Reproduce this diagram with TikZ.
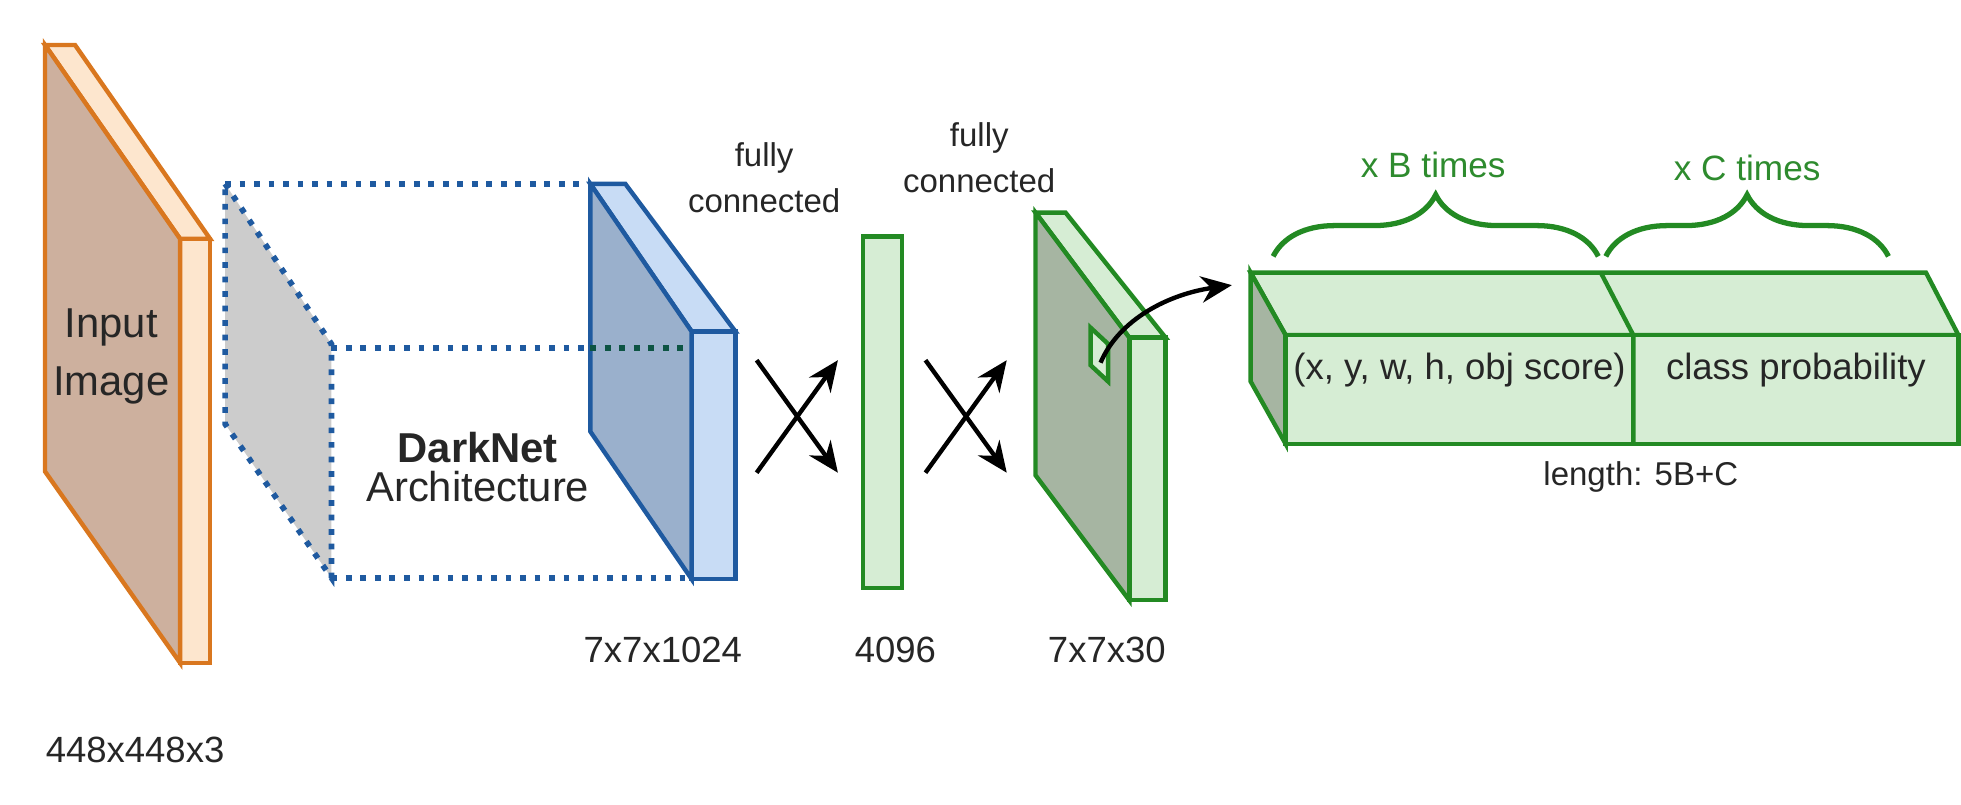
\documentclass[tikz,border=0pt]{standalone}
\usepackage{fontspec}
\setmainfont{Liberation Sans}
\usetikzlibrary{arrows.meta,decorations.pathreplacing}
\definecolor{orn}{HTML}{D9771F}
\definecolor{brn}{HTML}{CDB09E}
\definecolor{pch}{HTML}{FDE6CE}
\definecolor{bln}{HTML}{1F5AA0}
\definecolor{blf}{HTML}{9AB0CC}
\definecolor{bls}{HTML}{C8DCF5}
\definecolor{grn}{HTML}{238A23}
\definecolor{grf}{HTML}{D6EDD4}
\definecolor{grd}{HTML}{A6B5A2}
\definecolor{grt}{HTML}{2E8B2E}
\tikzset{
  lbl/.style={font=\fontsize{8.3}{10}\selectfont,text=black!85,align=center,inner sep=0},
  small/.style={font=\fontsize{7.5}{10.5}\selectfont,text=black!85,align=center,inner sep=0},
  big/.style={font=\fontsize{9.5}{13}\selectfont,text=black!85,align=center,inner sep=0},
  glbl/.style={font=\fontsize{8}{10}\selectfont,text=grt,inner sep=0},
  dots/.style={bln,dotted,line width=1.3pt},
  fcarrow/.style={-{Stealth[length=7pt,width=6pt]},line width=1pt,black},
  edge/.style={line width=1pt,line join=miter}
}
\begin{document}
\begin{tikzpicture}[x=0.01cm,y=-0.01cm]
\useasboundingbox (0,0) rectangle (1568,643);
% input image slab
\draw[edge,orn,fill=pch] (36,36)--(60,36)--(168,191)--(144,191)--cycle;
\draw[edge,orn,fill=pch] (144,191)--(168,191)--(168,530)--(144,530)--cycle;
\draw[edge,orn,fill=brn] (36,36)--(144,191)--(144,530)--(36,377)--cycle;
\node[big] (inp) at (89,285) {Input\\Image};
\node[lbl] (inpd) at (108,600) {448x448x3};
% gray plane and dotted lines
\fill[black!20] (180,147)--(265,275)--(265,462)--(180,339)--cycle;
\draw[dots] (180,147)--(265,275)--(265,462)--(180,339)--cycle;
\draw[dots] (180,147)--(472,147);
\draw[dots] (265,278)--(553,278);
\draw[dots] (265,462)--(553,462);
\node[big,font=\fontsize{9.5}{12}\selectfont\bfseries] (dn) at (382,358) {DarkNet};
\node[big] (arch) at (382,389) {Architecture};
% blue block
\draw[edge,bln,fill=bls] (472,147)--(500,147)--(588,265)--(553,265)--cycle;
\draw[edge,bln,fill=bls] (553,265)--(588,265)--(588,463)--(553,463)--cycle;
\draw[edge,bln,fill=blf] (472,147)--(553,265)--(553,463)--(472,345)--cycle;
\draw[dots,draw=bln!70!green!60!black] (472,278)--(553,278);
\node[lbl] (d1) at (530,520) {7x7x1024};
% fully connected 1
\node[small] (fc1) at (611,142) {fully\\connected};
\coordinate (a1) at (605,288); \coordinate (a2) at (670,378);
\coordinate (a3) at (605,378); \coordinate (a4) at (670,288);
\draw[fcarrow] (a1)--(a2);
\draw[fcarrow] (a3)--(a4);
% green bar
\draw[edge,grn,fill=grf] (690,189) rectangle (721,470);
\node[lbl] (d2) at (716,520) {4096};
% fully connected 2
\node[small] (fc2) at (783,126) {fully\\connected};
\coordinate (b1) at (740,288); \coordinate (b2) at (805,378);
\coordinate (b3) at (740,378); \coordinate (b4) at (805,288);
\draw[fcarrow] (b1)--(b2);
\draw[fcarrow] (b3)--(b4);
% green slab
\draw[edge,grn,fill=grf] (828,170)--(852,170)--(932,270)--(903,270)--cycle;
\draw[edge,grn,fill=grf] (903,270)--(932,270)--(932,480)--(903,480)--cycle;
\draw[edge,grn,fill=grd] (828,170)--(903,270)--(903,480)--(828,380)--cycle;
\draw[edge,grn,fill=grf] (872,262)--(886,275)--(886,305)--(872,292)--cycle;
\node[lbl] (d3) at (885,520) {7x7x30};
% long vector box
\draw[edge,grn,fill=grf] (1000,218)--(1540,218)--(1566,268)--(1028,268)--cycle;
\draw[edge,grn,fill=grd] (1000,218)--(1028,268)--(1028,355)--(1000,305)--cycle;
\draw[edge,grn,fill=grf] (1028,268) rectangle (1566,355);
\draw[edge,grn] (1280,218)--(1306,268)--(1306,355);
\node[lbl] (t1) at (1167,296) {(x, y, w, h, obj score)};
\node[lbl] (t2) at (1436,296) {class probability};
\node[small] (len) at (1312,381) {length: 5B+C};
% curved arrow
\coordinate (ca) at (880,290);
\draw[-{Stealth[length=7pt,width=6pt]},line width=1pt] (ca) .. controls (895,255) and (935,235) .. (985,228);
% braces
\draw[grn,line width=1.2pt,decorate,decoration={brace,amplitude=14pt}] (1018,205)--(1278,205);
\draw[grn,line width=1.2pt,decorate,decoration={brace,amplitude=14pt}] (1284,205)--(1510,205);
\node[glbl] (xb) at (1146,132) {x B times};
\node[glbl] (xc) at (1397,134) {x C times};
\end{tikzpicture}
\end{document}
